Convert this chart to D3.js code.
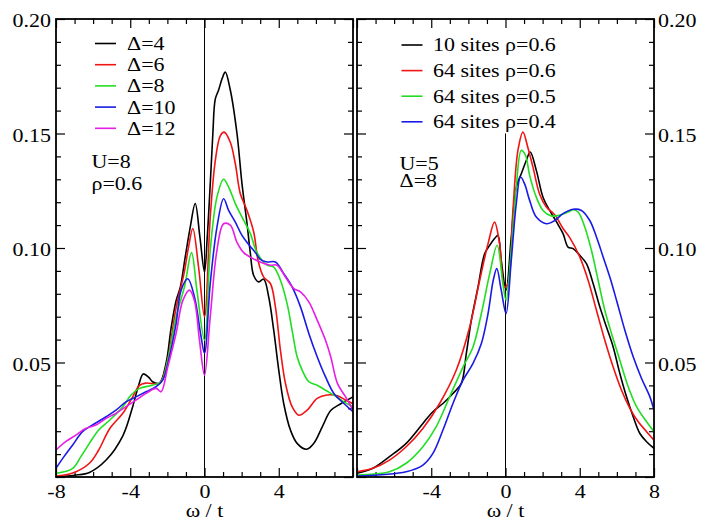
<!DOCTYPE html>
<html><head><meta charset="utf-8">
<script src="https://cdn.jsdelivr.net/npm/d3@7"></script>
<style>
html,body{margin:0;padding:0;background:#fff;}
svg{display:block;}
svg text{font-family:"Liberation Serif","DejaVu Serif","Times New Roman",serif !important;}
</style></head><body>
<svg id="c" width="702" height="521"></svg>
<script>
// ---------- data: left panel (U=8, rho=0.6) ----------
const leftNames = ["Δ=4", "Δ=6", "Δ=8", "Δ=10", "Δ=12"];
const leftColors = ["#000000", "#f01414", "#22dd22", "#1a1ae6", "#e61ee6"];
const delta4 = [[-8,0.0],[-7,0.0008],[-6.2,0.002],[-5.3,0.0074],[-4.4,0.018],[-3.87,0.0307],[-3.55,0.040],[-3.3,0.045],[-3.0,0.0435],[-2.8,0.0416],[-2.43,0.041],[-2.07,0.0497],[-1.8,0.065],[-1.53,0.077],[-1.3,0.083],[-1.04,0.096],[-0.77,0.109],[-0.5,0.1194],[-0.25,0.105],[0,0.0895],[0.15,0.105],[0.31,0.128],[0.45,0.15],[0.58,0.165],[0.76,0.169],[0.95,0.174],[1.12,0.1768],[1.39,0.169],[1.75,0.150],[2.02,0.128],[2.29,0.1107],[2.47,0.0977],[2.65,0.088],[2.92,0.0852],[3.19,0.0864],[3.46,0.0786],[3.73,0.064],[4.0,0.0467],[4.27,0.032],[4.63,0.0205],[4.99,0.0147],[5.5,0.0121],[5.89,0.0147],[6.35,0.022],[6.8,0.029],[7.34,0.032],[8,0.035]];
const delta6 = [[-8,0.0004],[-7.1,0.0017],[-6.2,0.006],[-5.7,0.0118],[-5.1,0.0212],[-4.4,0.0278],[-3.87,0.035],[-3.5,0.040],[-3.15,0.041],[-2.43,0.0409],[-2.07,0.048],[-1.53,0.074],[-1.1,0.089],[-0.86,0.1004],[-0.63,0.1085],[-0.32,0.0917],[0,0.070],[0.31,0.1135],[0.58,0.138],[0.85,0.149],[1.06,0.1506],[1.39,0.1462],[1.66,0.1368],[1.93,0.1237],[2.29,0.1164],[2.65,0.107],[2.9,0.094],[3.19,0.0873],[3.55,0.0845],[3.82,0.0743],[4.09,0.0554],[4.36,0.0409],[4.72,0.0307],[5.08,0.027],[5.53,0.0292],[6.07,0.0343],[6.6,0.0358],[7.16,0.0355],[7.6,0.0336],[8,0.032]];
const delta8 = [[-8,0.0016],[-7.1,0.0038],[-6.66,0.0089],[-6.2,0.0147],[-5.7,0.0205],[-5.1,0.0249],[-4.4,0.0307],[-3.96,0.0358],[-3.5,0.0387],[-2.8,0.0401],[-2.34,0.0416],[-1.98,0.051],[-1.53,0.070],[-1.08,0.083],[-0.7,0.098],[-0.41,0.0816],[0,0.0597],[0.31,0.099],[0.67,0.1222],[1.03,0.130],[1.3,0.1266],[1.66,0.1194],[2.02,0.1135],[2.47,0.1063],[2.83,0.098],[3.37,0.0925],[3.73,0.0917],[4.09,0.0859],[4.45,0.0757],[4.72,0.064],[4.99,0.0525],[5.26,0.0467],[5.62,0.0416],[6.07,0.0401],[6.52,0.0379],[6.97,0.0358],[7.51,0.0328],[8,0.0307]];
const delta10 = [[-8,0.0038],[-7.57,0.0089],[-7.1,0.014],[-6.57,0.0198],[-6.03,0.0227],[-5.3,0.0263],[-4.77,0.0292],[-4.23,0.0328],[-3.69,0.035],[-3.15,0.0372],[-2.61,0.0394],[-2.25,0.0423],[-1.89,0.0525],[-1.53,0.067],[-1.26,0.0816],[-0.9,0.0866],[-0.54,0.0786],[-0.2,0.062],[0,0.054],[0.31,0.0845],[0.67,0.109],[1.03,0.1215],[1.3,0.1164],[1.66,0.1113],[2.02,0.1055],[2.38,0.1015],[2.74,0.098],[3.0,0.095],[3.37,0.0939],[3.82,0.0939],[4.27,0.0888],[4.72,0.083],[5.17,0.0743],[5.62,0.0627],[6.07,0.0525],[6.52,0.0437],[6.97,0.0365],[7.51,0.0321],[8,0.0285]];
const delta12 = [[-8,0.0118],[-7.48,0.0154],[-6.93,0.0183],[-6.4,0.0212],[-5.85,0.0227],[-5.3,0.0256],[-4.77,0.0278],[-4.23,0.0307],[-3.69,0.0336],[-3.15,0.0365],[-2.61,0.0387],[-2.34,0.0372],[-1.98,0.048],[-1.53,0.0627],[-1.17,0.077],[-0.81,0.0816],[-0.54,0.077],[-0.27,0.0597],[0,0.0445],[0.31,0.070],[0.67,0.099],[1.03,0.1106],[1.39,0.110],[1.75,0.1025],[2.11,0.098],[2.47,0.096],[3.0,0.0939],[3.55,0.0925],[3.91,0.0925],[4.36,0.0873],[4.81,0.0823],[5.17,0.0808],[5.62,0.0765],[6.07,0.0685],[6.52,0.0597],[6.8,0.0525],[7.16,0.0409],[7.6,0.035],[8,0.0292]];
const leftParams = ["U=8", "ρ=0.6"];

// ---------- data: right panel (U=5, Delta=8) ----------
const rightNames = ["10 sites ρ=0.6", "64 sites ρ=0.6", "64 sites ρ=0.5", "64 sites ρ=0.4"];
const rightColors = ["#000000", "#f01414", "#22dd22", "#1a1ae6"];
const sites10rho06 = [[-8,0.0016],[-7.15,0.0038],[-6.25,0.0089],[-5.35,0.0147],[-4.45,0.0234],[-3.91,0.0285],[-3.37,0.0321],[-2.83,0.0365],[-2.38,0.0409],[-2.11,0.054],[-1.84,0.0685],[-1.48,0.083],[-1.12,0.0976],[-0.85,0.1012],[-0.6,0.104],[-0.41,0.1055],[-0.23,0.0946],[0.03,0.0816],[0.31,0.1048],[0.58,0.1266],[0.85,0.1324],[1.12,0.1382],[1.33,0.1419],[1.66,0.1339],[2.02,0.1222],[2.38,0.1164],[2.74,0.1115],[3.1,0.1063],[3.37,0.1004],[3.64,0.0997],[4.0,0.0968],[4.36,0.0932],[4.72,0.0845],[5.08,0.0743],[5.44,0.0655],[5.8,0.0568],[6.16,0.0452],[6.52,0.035],[6.88,0.0263],[7.24,0.019],[7.6,0.0154],[8,0.0125]];
const sites64rho06 = [[-8,0.0023],[-7.15,0.0038],[-6.25,0.0074],[-5.35,0.0132],[-4.45,0.0212],[-3.55,0.0321],[-2.65,0.0467],[-1.93,0.0655],[-1.39,0.0859],[-0.94,0.1019],[-0.59,0.1113],[-0.32,0.1019],[-0.05,0.083],[0.13,0.0845],[0.4,0.1164],[0.67,0.1426],[0.94,0.1506],[1.2,0.144],[1.48,0.1353],[1.84,0.1235],[2.2,0.1179],[2.65,0.1145],[3.1,0.1085],[3.46,0.1045],[4.0,0.0961],[4.45,0.0859],[4.9,0.0728],[5.35,0.0597],[5.8,0.048],[6.25,0.0379],[6.7,0.03],[7.15,0.0241],[7.6,0.0198],[8,0.0161]];
const sites64rho05 = [[-8,0.0009],[-6.25,0.0023],[-5.35,0.006],[-4.45,0.0132],[-3.73,0.022],[-3.01,0.035],[-2.29,0.048],[-1.75,0.0568],[-1.3,0.0714],[-0.85,0.0888],[-0.45,0.1012],[-0.14,0.0845],[0.03,0.0772],[0.31,0.099],[0.58,0.1266],[0.85,0.1426],[1.08,0.1404],[1.3,0.1317],[1.66,0.1222],[2.02,0.1164],[2.47,0.114],[2.92,0.1143],[3.37,0.1157],[3.64,0.1167],[3.91,0.1157],[4.27,0.1092],[4.63,0.099],[4.99,0.0859],[5.35,0.0728],[5.71,0.0627],[6.16,0.051],[6.61,0.0394],[7.06,0.0307],[7.6,0.0241],[8,0.0198]];
const sites64rho04 = [[-8,0.0004],[-5.35,0.0023],[-4.45,0.0052],[-3.91,0.0103],[-3.37,0.0205],[-2.83,0.0321],[-2.29,0.0423],[-1.75,0.0496],[-1.3,0.0583],[-0.94,0.0714],[-0.66,0.0859],[-0.47,0.091],[-0.23,0.0816],[0.03,0.0714],[0.31,0.0946],[0.58,0.1194],[0.81,0.131],[1.03,0.128],[1.3,0.1208],[1.66,0.1135],[2.2,0.1106],[2.65,0.112],[3.1,0.115],[3.64,0.1169],[4.09,0.1164],[4.54,0.112],[4.9,0.1048],[5.26,0.0961],[5.62,0.0873],[5.98,0.0772],[6.43,0.0641],[6.88,0.0525],[7.33,0.043],[7.78,0.035],[8,0.0292]];
const rightParams = ["U=5", "Δ=8"];

// ---------- ticks ----------
const xMajorTicks = [-8, -4, 0, 4, 8];
const xMinorTicks = [-7, -6, -5, -3, -2, -1, 1, 2, 3, 5, 6, 7];
const leftXTickLabels = ["-8", "-4", "0", "4", ""];
const rightXTickLabels = ["", "-4", "0", "4", "8"];
const yMajorTicks = [0, 0.05, 0.10, 0.15, 0.20];
const yMinorTicks = [0.01,0.02,0.03,0.04,0.06,0.07,0.08,0.09,0.11,0.12,0.13,0.14,0.16,0.17,0.18,0.19];
const yTickLabels = ["", "0.05", "0.10", "0.15", "0.20"];
const xAxisTitle = "ω / t";

// ---------- drawing ----------
const FONT = '"Liberation Serif","DejaVu Serif","Times New Roman",serif';
const FS = 22;
const SQ = 0.9; // vertical squash of the original lettering
const svg = d3.select("#c");
const yTop = 19, yBottom = 477;
const y = d3.scaleLinear().domain([0, 0.2]).range([yBottom, yTop]);

function squash(sel, b) {
  sel.attr("y", b).attr("dy", null)
    .attr("transform", `translate(0,${b}) scale(1,${SQ}) translate(0,${-b})`);
}
function styleText(sel) {
  sel.style("font-family", FONT).style("font-size", FS + "px").attr("fill", "#000");
}
function styleAxis(g) {
  g.select(".domain").remove();
  g.selectAll("line").attr("stroke", "#000").attr("stroke-width", 1.2);
  g.attr("font-family", null).attr("font-size", null);
  styleText(g.selectAll("text"));
}

function addText(g, x, yb, str, anchor) {
  const t = g.append("text").attr("x", x).text(str).attr("text-anchor", anchor || "start");
  styleText(t);
  squash(t, yb);
  return t;
}

function panel(id, x0, x1, series, names, colors, xLabels, yLabelSide, zeroLineTop, legend, params) {
  const x = d3.scaleLinear().domain([-8, 8]).range([x0, x1]);
  const g = svg.append("g");
  g.append("clipPath").attr("id", "clip" + id).append("rect")
    .attr("x", x0).attr("y", yTop).attr("width", x1 - x0).attr("height", yBottom - yTop);

  g.append("g").attr("transform", `translate(0,${yBottom})`)
    .call(d3.axisBottom(x).tickValues(xMinorTicks).tickSize(-5).tickFormat("")).call(styleAxis);
  const bx = g.append("g").attr("transform", `translate(0,${yBottom})`)
    .call(d3.axisBottom(x).tickValues(xMajorTicks).tickSize(-9).tickPadding(6)
      .tickFormat((d, i) => xLabels[i])).call(styleAxis);
  squash(bx.selectAll("text"), 21.5);
  g.append("g").attr("transform", `translate(0,${yTop})`)
    .call(d3.axisTop(x).tickValues(xMinorTicks).tickSize(-5).tickFormat("")).call(styleAxis);
  g.append("g").attr("transform", `translate(0,${yTop})`)
    .call(d3.axisTop(x).tickValues(xMajorTicks).tickSize(-9).tickFormat("")).call(styleAxis);
  g.append("g").attr("transform", `translate(${x0},0)`)
    .call(d3.axisLeft(y).tickValues(yMinorTicks).tickSize(-5).tickFormat("")).call(styleAxis);
  const lx = g.append("g").attr("transform", `translate(${x0},0)`)
    .call(d3.axisLeft(y).tickValues(yMajorTicks).tickSize(-9).tickPadding(5)
      .tickFormat((d, i) => yLabelSide === "left" ? yTickLabels[i] : "")).call(styleAxis);
  squash(lx.selectAll("text"), 7.5);
  g.append("g").attr("transform", `translate(${x1},0)`)
    .call(d3.axisRight(y).tickValues(yMinorTicks).tickSize(-5).tickFormat("")).call(styleAxis);
  const rx = g.append("g").attr("transform", `translate(${x1},0)`)
    .call(d3.axisRight(y).tickValues(yMajorTicks).tickSize(-9).tickPadding(4)
      .tickFormat((d, i) => yLabelSide === "right" ? yTickLabels[i] : "")).call(styleAxis);
  squash(rx.selectAll("text"), 7.5);

  g.append("line").attr("x1", x(0)).attr("x2", x(0))
    .attr("y1", y(zeroLineTop)).attr("y2", yBottom)
    .attr("stroke", "#000").attr("stroke-width", 1);

  const line = d3.line().x(d => x(d[0])).y(d => y(d[1])).curve(d3.curveCatmullRom.alpha(0.5));
  const cg = g.append("g").attr("clip-path", `url(#clip${id})`);
  series.forEach((s, i) => {
    cg.append("path").datum(s).attr("d", line)
      .attr("fill", "none").attr("stroke", colors[i]).attr("stroke-width", 1.6)
      .attr("stroke-linejoin", "round");
  });

  g.append("rect").attr("x", x0).attr("y", yTop).attr("width", x1 - x0).attr("height", yBottom - yTop)
    .attr("fill", "none").attr("stroke", "#000").attr("stroke-width", 1.8);

  names.forEach((n, i) => {
    const ly = legend.y0 + i * legend.dy;
    g.append("line").attr("x1", legend.lx0).attr("x2", legend.lx1).attr("y1", ly).attr("y2", ly)
      .attr("stroke", colors[i]).attr("stroke-width", 1.6);
    addText(g, legend.tx, ly + 6.5, n);
  });
  params.forEach((p, i) => addText(g, legend.px, legend.py[i], p));

  addText(g, x(0), 517.5, xAxisTitle, "middle");
}

panel("L", 56, 353, [delta4, delta6, delta8, delta10, delta12], leftNames, leftColors,
  leftXTickLabels, "left", 0.2,
  {y0: 43.5, dy: 21.2, lx0: 95, lx1: 116, tx: 127, px: 91.5, py: [168.5, 190]}, leftParams);

panel("R", 357, 654, [sites10rho06, sites64rho06, sites64rho05, sites64rho04], rightNames, rightColors,
  rightXTickLabels, "right", 0.15,
  {y0: 45, dy: 25.6, lx0: 401.5, lx1: 422.5, tx: 433, px: 399.5, py: [170, 187.5]}, rightParams);
</script>
</body></html>
